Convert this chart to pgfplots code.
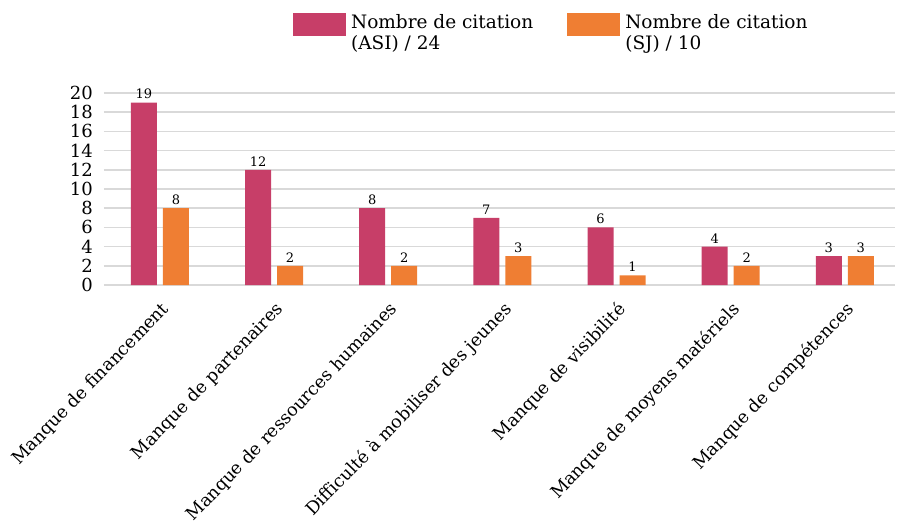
\documentclass[border=0pt]{standalone}
\usepackage{pgfplots}
\pgfplotsset{compat=1.18}
\usepackage{fontspec}
\setmainfont{DejaVu Serif}
\definecolor{asi}{HTML}{C73E68}
\definecolor{sj}{HTML}{EF7E33}
\definecolor{gridc}{HTML}{D9D9D9}
\begin{document}
\begin{tikzpicture}[x=1pt,y=1pt]
\useasboundingbox (-104,-240) rectangle (793,285);
\begin{axis}[
  at={(0,0)}, anchor=south west,
  scale only axis, width=791pt, height=192pt,
  xmin=-0.49, xmax=6.44, ymin=0, ymax=20,
  ybar=6pt, bar width=26pt,
  axis line style={draw=none},
  tick style={draw=none},
  ymajorgrids, grid style={gridc, line width=1.6pt},
  ytick={0,2,...,20},
  xtick={0,...,6},
  xticklabels={Manque de financement, Manque de partenaires, Manque de ressources humaines, Difficulté à mobiliser des jeunes, Manque de visibilité, Manque de moyens matériels, Manque de compétences},
  xticklabel style={xshift=-5pt, yshift=-2pt, rotate=46, anchor=north east, font=\fontsize{17.6}{17.6}\selectfont, inner sep=2pt, xshift=-1pt, yshift=-8pt},
  yticklabel style={font=\fontsize{18}{18}\selectfont, inner sep=0pt, xshift=-11pt},
  /pgf/number format/assume math mode=true,
  nodes near coords,
  every node near coord/.append style={font=\fontsize{13}{13}\selectfont, black},
  legend style={at={(0.235,1.432)}, anchor=north west, draw=none, fill=none,
    cells={anchor=base west}, font=\fontsize{18.5}{21}\selectfont,
    /tikz/every even column/.append style={column sep=32pt},
    /tikz/every odd column/.append style={column sep=3pt}},
  legend columns=2,
  legend image code/.code={\fill[#1] (0pt,-7pt) rectangle (53pt,16pt);},
]
\addplot[fill=asi, draw=none] coordinates {(0,19) (1,12) (2,8) (3,7) (4,6) (5,4) (6,3)};
\addplot[fill=sj, draw=none] coordinates {(0,8) (1,2) (2,2) (3,3) (4,1) (5,2) (6,3)};
\legend{{\begin{tabular}[t]{@{}l@{}}Nombre de citation\\(ASI) / 24\end{tabular}},{\begin{tabular}[t]{@{}l@{}}Nombre de citation\\(SJ) / 10\end{tabular}}}
\end{axis}
\end{tikzpicture}
\end{document}
